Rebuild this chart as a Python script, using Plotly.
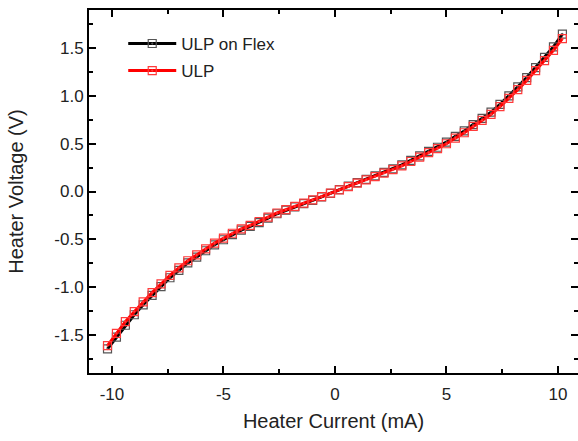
import plotly.graph_objects as go

current_mA = [-10.2, -9.8, -9.4, -9.0, -8.6, -8.2, -7.8, -7.4, -7.0, -6.6, -6.2, -5.8,
              -5.4, -5.0, -4.6, -4.2, -3.8, -3.4, -3.0, -2.6, -2.2, -1.8, -1.4, -1.0,
              -0.6, -0.2, 0.2, 0.6, 1.0, 1.4, 1.8, 2.2, 2.6, 3.0, 3.4, 3.8, 4.2, 4.6,
              5.0, 5.4, 5.8, 6.2, 6.6, 7.0, 7.4, 7.8, 8.2, 8.6, 9.0, 9.4, 9.8, 10.2]

v_ulp_flex = [-1.648, -1.525, -1.400, -1.290, -1.186, -1.088, -0.995, -0.903, -0.825,
              -0.748, -0.686, -0.620, -0.558, -0.505, -0.452, -0.404, -0.366, -0.325,
              -0.279, -0.233, -0.196, -0.161, -0.127, -0.092, -0.057, -0.020, 0.020,
              0.056, 0.092, 0.127, 0.163, 0.200, 0.237, 0.278, 0.325, 0.372, 0.419,
              0.463, 0.516, 0.577, 0.634, 0.701, 0.766, 0.831, 0.912, 1.002, 1.095,
              1.193, 1.297, 1.404, 1.515, 1.648]

v_ulp = [-1.614, -1.485, -1.363, -1.258, -1.156, -1.059, -0.968, -0.877, -0.800,
         -0.725, -0.664, -0.600, -0.540, -0.489, -0.437, -0.391, -0.354, -0.314,
         -0.269, -0.225, -0.189, -0.155, -0.122, -0.088, -0.054, -0.018, 0.018,
         0.052, 0.087, 0.121, 0.156, 0.192, 0.228, 0.268, 0.314, 0.360, 0.406,
         0.448, 0.500, 0.559, 0.615, 0.681, 0.744, 0.807, 0.888, 0.975, 1.066,
         1.163, 1.265, 1.370, 1.478, 1.600]

x_ticks = [-10, -5, 0, 5, 10]
y_ticks = [-1.5, -1.0, -0.5, 0.0, 0.5, 1.0, 1.5]

FONT = "Liberation Sans, Arial, sans-serif"

fig = go.Figure()
fig.add_trace(go.Scatter(
    x=current_mA, y=v_ulp_flex, mode="lines+markers", name="ULP on Flex",
    line=dict(color="black", width=3), legend="legend",
    marker=dict(symbol="square-open-dot", size=8, color="#555555", line=dict(width=1.2)),
))
fig.add_trace(go.Scatter(
    x=current_mA, y=v_ulp, mode="lines+markers", name="ULP",
    line=dict(color="#ff0000", width=3), legend="legend2",
    marker=dict(symbol="square-open-dot", size=8, color="#ff3a3a", line=dict(width=1.2)),
))

axis_common = dict(
    showline=True, linecolor="black", linewidth=2, mirror="ticks",
    ticks="inside", ticklen=7, tickwidth=1.5, tickcolor="black",
    showgrid=False, zeroline=False, automargin=False,
    tickfont=dict(family=FONT, size=17, color="#222222"),
)

fig.update_xaxes(
    range=[-11.03, 10.9], tickvals=x_ticks, ticktext=[str(t) for t in x_ticks],
    minor=dict(dtick=2.5, tick0=0, ticks="inside", ticklen=4, tickwidth=1.5, tickcolor="black"),
    ticklabelstandoff=5,
    title=dict(text="Heater Current (mA)", font=dict(family=FONT, size=20, color="#222222"), standoff=11),
    **axis_common,
)
fig.update_yaxes(
    range=[-1.9, 1.9], tickvals=y_ticks, ticktext=[f"{t:.1f}" for t in y_ticks],
    minor=dict(dtick=0.25, tick0=0, ticks="inside", ticklen=4, tickwidth=1.5, tickcolor="black"),
    title=dict(text="Heater Voltage (V)", font=dict(family=FONT, size=20, color="#222222"), standoff=25),
    **axis_common,
)

legend_common = dict(xanchor="left", yanchor="top", itemwidth=48,
                     bgcolor="rgba(0,0,0,0)", font=dict(family=FONT, size=17, color="#222222"))

fig.update_layout(
    width=578, height=441,
    margin=dict(l=89, r=0, t=10, b=68),
    paper_bgcolor="white", plot_bgcolor="white",
    showlegend=True,
    legend=dict(x=0.07, y=0.956, **legend_common),
    legend2=dict(x=0.07, y=0.8815, **legend_common),
)

fig.write_html("out.html", config={"displayModeBar": False},
               post_script="document.body.style.margin='0px';")
